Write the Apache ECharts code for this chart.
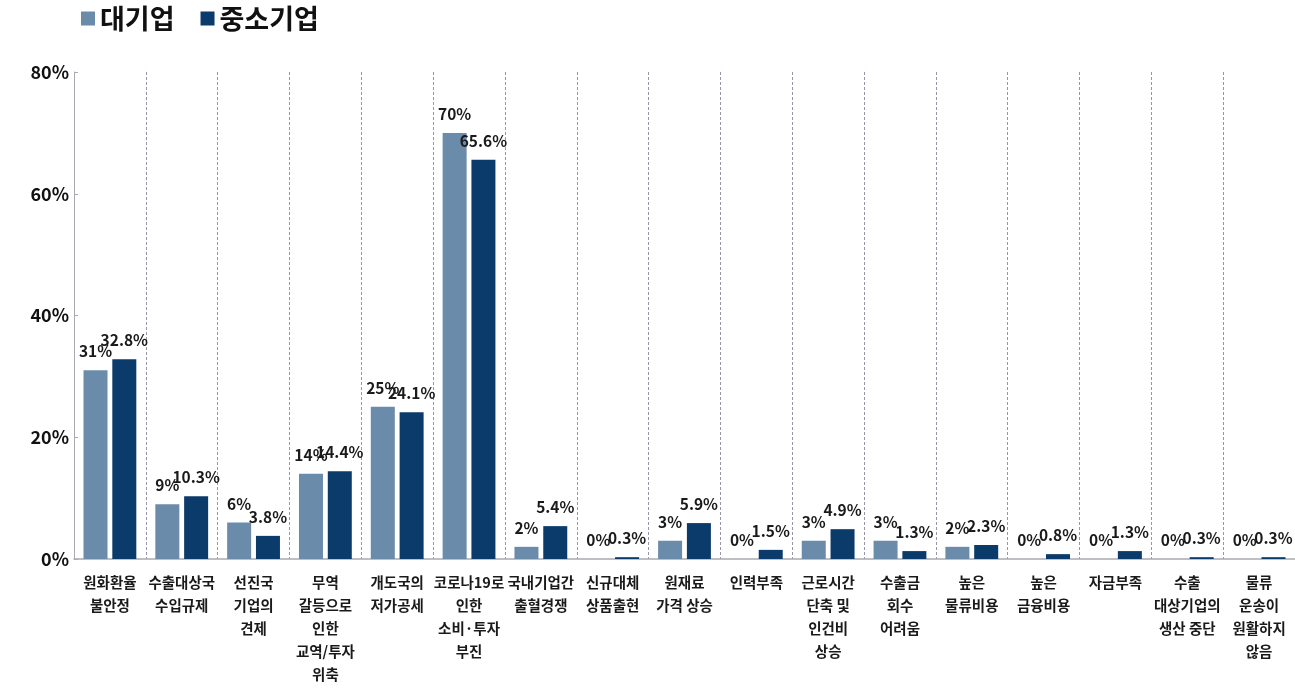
<!DOCTYPE html>
<html>
<head>
<meta charset="utf-8">
<script src="https://cdn.jsdelivr.net/npm/echarts@6/dist/echarts.min.js"></script>
<style>
  html, body { margin: 0; padding: 0; background: #fff; }
  #chart { width: 1295px; height: 689px; }
</style>
</head>
<body>
<div id="chart"></div>
<script>
// 애로사항 항목 (줄바꿈 포함)
const categories = [
  '원화환율\n불안정',
  '수출대상국\n수입규제',
  '선진국\n기업의\n견제',
  '무역\n갈등으로\n인한\n교역/투자\n위축',
  '개도국의\n저가공세',
  '코로나19로\n인한\n소비·투자\n부진',
  '국내기업간\n출혈경쟁',
  '신규대체\n상품출현',
  '원재료\n가격 상승',
  '인력부족',
  '근로시간\n단축 및\n인건비\n상승',
  '수출금\n회수\n어려움',
  '높은\n물류비용',
  '높은\n금융비용',
  '자금부족',
  '수출\n대상기업의\n생산 중단',
  '물류\n운송이\n원활하지\n않음'
];

// 응답 비율 (%)
const largeFirms = [31, 9, 6, 14, 25, 70, 2, 0, 3, 0, 3, 3, 2, 0, 0, 0, 0];
const smeFirms = [32.8, 10.3, 3.8, 14.4, 24.1, 65.6, 5.4, 0.3, 5.9, 1.5, 4.9, 1.3, 2.3, 0.8, 1.3, 0.3, 0.3];

const seriesNames = ['대기업', '중소기업'];
const yTicks = { min: 0, max: 80, interval: 20 };

const FONT = '"Noto Sans CJK KR", "Noto Sans", sans-serif';

const chart = echarts.init(document.getElementById('chart'));

const labelStyle = {
  show: true,
  position: 'top',
  distance: 11,
  fontFamily: FONT,
  fontSize: 15.5,
  fontWeight: 'bold',
  color: '#1a1a1a',
  formatter: p => p.value + '%'
};

chart.setOption({
  animation: false,
  backgroundColor: '#fff',
  legend: {
    left: 76,
    top: 0,
    itemWidth: 14,
    itemHeight: 14,
    itemGap: 26,
    icon: 'rect',
    textStyle: { fontFamily: FONT, fontSize: 27, fontWeight: 'bold', color: '#111', padding: [0, 0, 0, 0] },
    data: seriesNames
  },
  grid: { left: 74, right: -3, top: 72, bottom: 130, containLabel: false },
  xAxis: {
    type: 'category',
    data: categories,
    axisLine: { lineStyle: { color: '#a9a9b3', width: 1.5 } },
    axisTick: { show: false },
    splitLine: { show: true, lineStyle: { color: '#9a96a8', type: [3, 2], width: 1 } },
    axisLabel: {
      interval: 0,
      margin: 12,
      fontFamily: FONT,
      fontSize: 14.5,
      fontWeight: 'bold',
      color: '#1a1a1a',
      lineHeight: 23
    }
  },
  yAxis: {
    type: 'value',
    min: yTicks.min,
    max: yTicks.max,
    interval: yTicks.interval,
    axisLine: { show: true, lineStyle: { color: '#a9a9b3', width: 1 } },
    axisTick: { show: true, inside: true, length: 4, lineStyle: { color: '#a9a9b3' } },
    splitLine: { show: false },
    axisLabel: {
      margin: 5,
      fontFamily: FONT,
      fontSize: 18,
      fontWeight: 'bold',
      color: '#111',
      formatter: v => v + '%'
    }
  },
  series: [
    {
      name: seriesNames[0],
      type: 'bar',
      data: largeFirms,
      barWidth: 24,
      barGap: '20%',
      itemStyle: { color: '#6b8bab' },
      label: labelStyle
    },
    {
      name: seriesNames[1],
      type: 'bar',
      data: smeFirms,
      barWidth: 24,
      itemStyle: { color: '#0b3b6a' },
      label: labelStyle
    }
  ]
});
</script>
</body>
</html>
